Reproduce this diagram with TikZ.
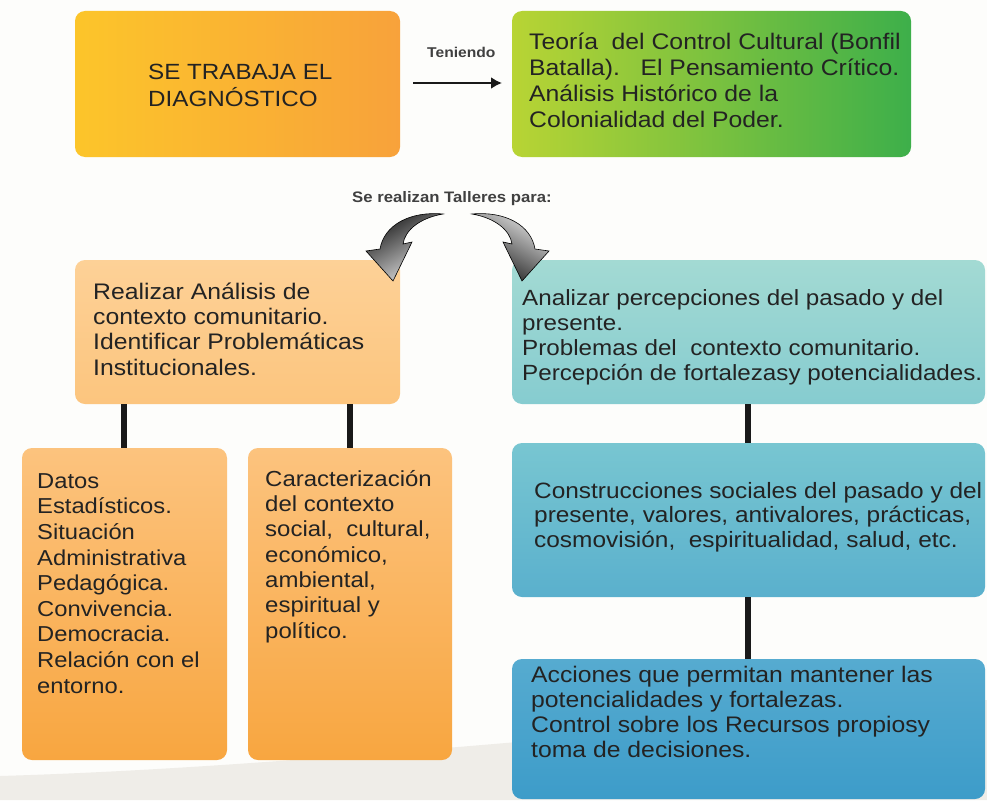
\documentclass[tikz,border=0pt]{standalone}
\usepackage{fontspec}
\usetikzlibrary{arrows.meta}
\setmainfont{Liberation Sans}[FakeStretch=1.1]
\definecolor{txtc}{HTML}{232323}
\definecolor{bgc}{HTML}{FDFDFB}
\definecolor{swc}{HTML}{EFEDE8}
\definecolor{oyA}{HTML}{FCC52A}
\definecolor{oyB}{HTML}{F8A23B}
\definecolor{grA}{HTML}{B8D434}
\definecolor{grB}{HTML}{3DAF4A}
\definecolor{loA}{HTML}{FDD197}
\definecolor{loB}{HTML}{FCC57E}
\definecolor{tlA}{HTML}{A3DAD3}
\definecolor{tlB}{HTML}{86CCD0}
\definecolor{orA}{HTML}{FCC37E}
\definecolor{orB}{HTML}{F8A640}
\definecolor{bmA}{HTML}{78C6D1}
\definecolor{bmB}{HTML}{5AB0CD}
\definecolor{bdA}{HTML}{56ABD0}
\definecolor{bdB}{HTML}{3D9CC9}
\newcommand\fst{\rule{0pt}{20pt}}
\newcommand\bodyfont{\fontsize{22.5}{25.5}\selectfont}
\begin{document}
\begin{tikzpicture}[x=1pt,y=-1pt,
  box/.style={rounded corners=10pt, draw=none, inner sep=0pt},
  txt/.style={anchor=north west, inner sep=0pt, align=left, text=txtc, font=\bodyfont},
  lbl/.style={anchor=base west, inner sep=0pt, text=black!75, font=\bfseries\fontsize{14.2}{17}\selectfont},
  link/.style={line width=6pt, black!90},
  curvarr/.style={draw=black, line width=0.6pt}
]
\useasboundingbox (0,0) rectangle (987,800);
\fill[bgc] (0,0) rectangle (987,800);
\fill[swc] (0,776) .. controls (200,770) and (420,752) .. (987,700) -- (987,800) -- (0,800) -- cycle;

% top row
\node[box, minimum width=325pt, minimum height=146pt, left color=oyA, middle color=oyB, right color=oyB] (b1) at (237.5,84) {};
\node[box, minimum width=399pt, minimum height=146pt, left color=grA, middle color=grB, right color=grB] (b2) at (711.5,84) {};
\node[txt, font=\fontsize{22}{27}\selectfont] (t1) at (148,59) {\fst SE TRABAJA EL\\DIAGNÓSTICO};
\node[txt, font=\fontsize{22.5}{26}\selectfont] (t2) at (529,29) {\fst Teoría\ \ del Control Cultural (Bonfil\\Batalla).\ \ \ El Pensamiento Crítico.\\Análisis Histórico de la\\Colonialidad del Poder.};
\coordinate (a1s) at (413,83);
\coordinate (a1e) at (502,83);
\draw[line width=2.5pt, black!90, -{Latex[length=11pt,width=12pt]}] (a1s) -- (a1e);
\node[lbl] (ten) at (427,58) {Teniendo};

% label
\node[lbl, font=\bfseries\fontsize{15.2}{18}\selectfont] (talleres) at (352,202) {Se realizan Talleres\ para:};

% second row
\node[box, minimum width=325pt, minimum height=144pt, top color=loA, bottom color=loB] (b3) at (237.5,332) {};
\node[box, minimum width=473pt, minimum height=144pt, top color=tlA, bottom color=tlB] (b4) at (748.5,332) {};
\node[txt, font=\fontsize{22.5}{25.3}\selectfont] (t3) at (93,279) {\fst Realizar Análisis de\\contexto comunitario.\\Identificar Problemáticas\\Institucionales.};
\node[txt, font=\fontsize{22}{25}\selectfont] (t4) at (522,285) {\fst Analizar percepciones del pasado y del\\presente.\\Problemas del\ \ contexto comunitario.\\Percepción de fortalezasy potencialidades.};

% curved arrows
\path[curvarr, left color=black!90, right color=gray!20, shading angle=30]
  (443,214) .. controls (410,211) and (384,225) .. (380,249) -- (366,251) -- (393,281) -- (412,242) -- (403,244) .. controls (405,230) and (420,218) .. (443,214) -- cycle;
\path[curvarr, right color=black!90, left color=gray!20, shading angle=-30]
  (472,214) .. controls (505,211) and (531,225) .. (535,249) -- (549,251) -- (522,281) -- (503,242) -- (512,244) .. controls (510,230) and (495,218) .. (472,214) -- cycle;

% third row left
\node[box, minimum width=205pt, minimum height=312pt, top color=orA, bottom color=orB] (b5) at (124.5,604) {};
\node[box, minimum width=204pt, minimum height=312pt, top color=orA, bottom color=orB] (b6) at (350,604) {};
\node[txt, font=\fontsize{21.6}{25.6}\selectfont] (t5) at (37,468) {\fst Datos\\Estadísticos.\\Situación\\Administrativa\\Pedagógica.\\Convivencia.\\Democracia.\\Relación con el\\entorno.};
\node[txt, font=\fontsize{21.8}{25.3}\selectfont] (t6) at (265,466) {\fst Caracterización\\del contexto\\social,\ \ cultural,\\económico,\\ambiental,\\espiritual y\\político.};

% right column
\node[box, minimum width=473pt, minimum height=154pt, top color=bmA, bottom color=bmB] (b7) at (748.5,520) {};
\node[box, minimum width=473pt, minimum height=140pt, top color=bdA, bottom color=bdB] (b8) at (748.5,729) {};
\node[txt, font=\fontsize{22.2}{24.5}\selectfont] (t7) at (534,478) {\fst Construcciones sociales del pasado y del\\presente, valores, antivalores, prácticas,\\cosmovisión,\ \ espiritualidad, salud, etc.};
\node[txt, font=\fontsize{22.5}{25}\selectfont] (t8) at (531,662) {\fst Acciones que permitan mantener las\\potencialidades y fortalezas.\\Control sobre los Recursos propiosy\\toma de decisiones.};

% connectors
\draw[link] (b3.south -| 124,0) -- (b5.north -| 124,0);
\draw[link] (b3.south -| 350,0) -- (b6.north -| 350,0);
\draw[link] (b4.south -| 748,0) -- (b7.north -| 748,0);
\draw[link] (b7.south -| 748,0) -- (b8.north -| 748,0);
\end{tikzpicture}
\end{document}
